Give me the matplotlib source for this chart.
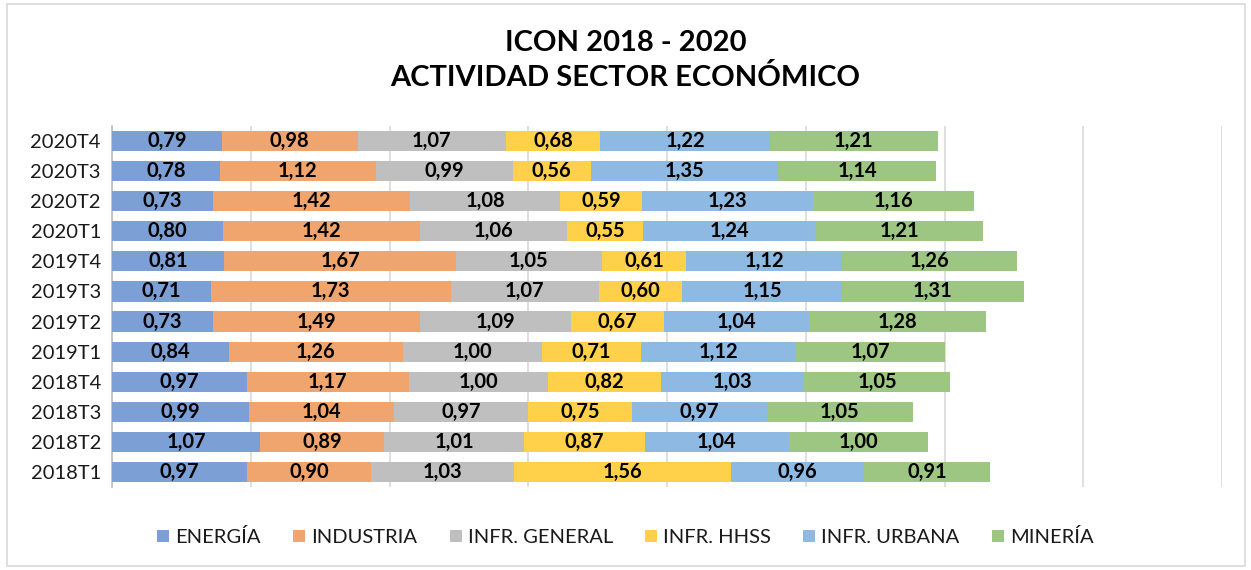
import numpy as np
import matplotlib
matplotlib.use("Agg")
import matplotlib.pyplot as plt
from matplotlib.patches import Rectangle

periodos = ["2018T1", "2018T2", "2018T3", "2018T4", "2019T1", "2019T2",
            "2019T3", "2019T4", "2020T1", "2020T2", "2020T3", "2020T4"]
sectores = ["ENERGÍA", "INDUSTRIA", "INFR. GENERAL", "INFR. HHSS", "INFR. URBANA", "MINERÍA"]

energia = [0.97, 1.07, 0.99, 0.97, 0.84, 0.73, 0.71, 0.81, 0.80, 0.73, 0.78, 0.79]
industria = [0.90, 0.89, 1.04, 1.17, 1.26, 1.49, 1.73, 1.67, 1.42, 1.42, 1.12, 0.98]
infr_general = [1.03, 1.01, 0.97, 1.00, 1.00, 1.09, 1.07, 1.05, 1.06, 1.08, 0.99, 1.07]
infr_hhss = [1.56, 0.87, 0.75, 0.82, 0.71, 0.67, 0.60, 0.61, 0.55, 0.59, 0.56, 0.68]
infr_urbana = [0.96, 1.04, 0.97, 1.03, 1.12, 1.04, 1.15, 1.12, 1.24, 1.23, 1.35, 1.22]
mineria = [0.91, 1.00, 1.05, 1.05, 1.07, 1.28, 1.31, 1.26, 1.21, 1.16, 1.14, 1.21]

series = [energia, industria, infr_general, infr_hhss, infr_urbana, mineria]
colores = ["#7C9FD5", "#F1A56E", "#BFBFBF", "#FFD04A", "#8DB9E2", "#9DC682"]

plt.rcParams['font.family'] = ['Lato', 'DejaVu Sans']

fig = plt.figure(figsize=(12.51, 5.70), dpi=100)
ax = fig.add_axes([112/1251, 1-487/570, (1222-112)/1251, (487-126)/570])

fig.patches.append(Rectangle((7/1251, 4/570), 1238/1251, 562/570, transform=fig.transFigure,
                             fill=False, edgecolor="#D9D9D9", linewidth=1.2))

y = np.arange(len(periodos))
left = np.zeros(len(periodos))
for nombre, vals, c in zip(sectores, series, colores):
    vals = np.array(vals)
    ax.barh(y, vals, left=left, height=0.67, color=c, label=nombre, zorder=3)
    for yi, l, v in zip(y, left, vals):
        ax.text(l + v/2, yi, f"{v:.2f}".replace(".", ","), ha="center", va="center",
                fontsize=14.5, fontweight="bold", color="black", zorder=4)
    left += vals

ax.set_xlim(0, 8)
ax.set_ylim(-0.5, 11.5)
ax.set_xticks(range(0, 9))
ax.set_xticklabels([])
ax.tick_params(axis="x", length=0)
ax.tick_params(axis="y", length=0, labelsize=14.5, pad=8, labelcolor="#1a1a1a")
ax.set_yticks(y)
ax.set_yticklabels(periodos)
ax.grid(axis="x", color="#D9D9D9", linewidth=1.2, zorder=0)
for s in ["top", "right", "bottom"]:
    ax.spines[s].set_visible(False)
ax.spines["left"].set_color("#BFBFBF")
ax.spines["left"].set_linewidth(1.2)

fig.text(0.5, 1-43/570, "ICON 2018 - 2020", ha="center", va="center", fontsize=21, fontweight="bold")
fig.text(0.5, 1-77/570, "ACTIVIDAD SECTOR ECONÓMICO", ha="center", va="center", fontsize=21, fontweight="bold")

fig.legend(loc="center", bbox_to_anchor=(0.5, 1-537/570), ncol=6, frameon=False,
           fontsize=14.5, handlelength=0.6, handleheight=0.6, handletextpad=0.3, columnspacing=1.6,
           labelcolor="#1a1a1a")

plt.savefig("out.png", dpi=100)
plt.close()
